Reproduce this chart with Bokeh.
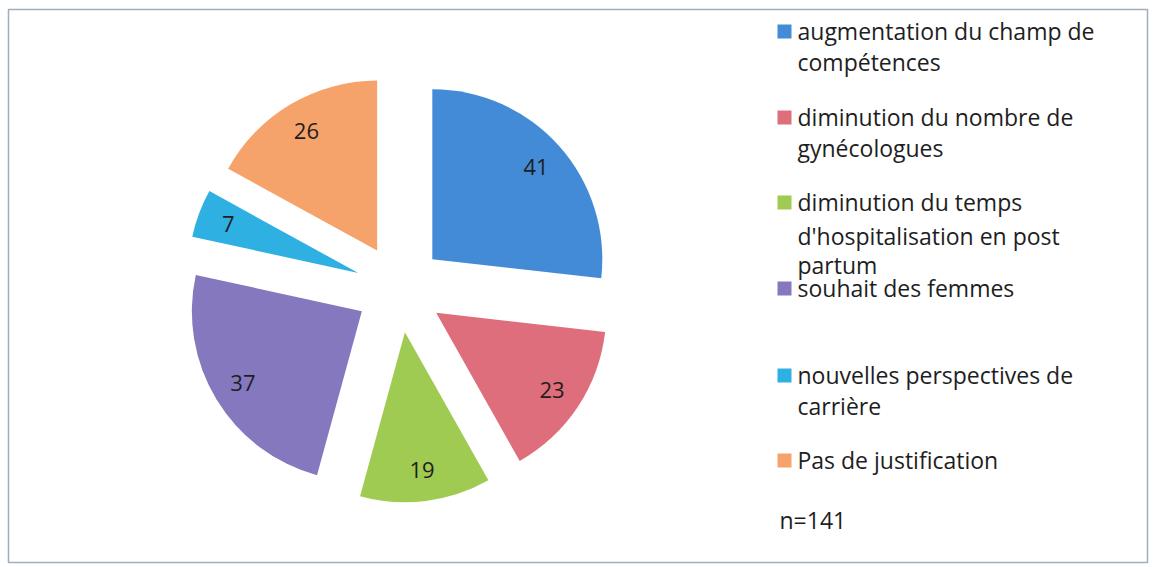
import math
from bokeh.plotting import figure
from bokeh.models import Range1d, ColumnDataSource
from bokeh.core.properties import value
from bokeh.embed import file_html
from bokeh.resources import INLINE

# ---- data ----
categories = [
    "augmentation du champ de compétences",
    "diminution du nombre de gynécologues",
    "diminution du temps d'hospitalisation en post partum",
    "souhait des femmes",
    "nouvelles perspectives de carrière",
    "Pas de justification",
]
values = [41, 23, 19, 37, 7, 26]
colors = ["#438bd6", "#de6e7c", "#9fcb52", "#8678bf", "#2fb0e3", "#f6a36b"]
legend_lines = [
    ["augmentation du champ de", "compétences"],
    ["diminution du nombre de", "gynécologues"],
    ["diminution du temps", "d'hospitalisation en post", "partum"],
    ["souhait des femmes"],
    ["nouvelles perspectives de", "carrière"],
    ["Pas de justification"],
]
note = "n=141"

# ---- layout (screen px) ----
W, H = 1152, 565
PAGE_H = 567
FONT = "Open Sans"


def Y(sy):
    return PAGE_H - sy


p = figure(width=W, height=H, output_backend="svg", toolbar_location=None,
           x_range=Range1d(0, W), y_range=Range1d(PAGE_H - H, PAGE_H),
           min_border=0)
p.axis.visible = False
p.grid.visible = False
p.outline_line_color = None
p.background_fill_color = "white"
p.border_fill_color = "white"

# border box
p.quad(left=[8], right=[1147], bottom=[Y(562)], top=[Y(9)],
       fill_color=None, line_color="#9fadbd", line_width=1.5)

# pie
cx, cy = 399, Y(288)
R = 170
explode = 44
label_r = 139
total = sum(values)
xs, ys, starts, ends, lx, ly = [], [], [], [], [], []
cum = 0
for v in values:
    a0 = cum / total * 2 * math.pi
    cum += v
    a1 = cum / total * 2 * math.pi
    mid = (a0 + a1) / 2
    dx, dy = math.sin(mid), math.cos(mid)
    ox, oy = cx + explode * dx, cy + explode * dy
    xs.append(ox); ys.append(oy)
    starts.append(math.pi / 2 - a0)
    ends.append(math.pi / 2 - a1)
    lx.append(ox + label_r * dx); ly.append(oy + label_r * dy)

src = ColumnDataSource(dict(x=xs, y=ys, s=starts, e=ends, c=colors,
                            lx=lx, ly=ly, t=[str(v) for v in values]))
p.wedge(x="x", y="y", radius=R, start_angle="s", end_angle="e",
        direction="clock", fill_color="c", line_color=None, source=src)
p.text(x="lx", y="ly", text="t", source=src, text_align="center",
       text_baseline="middle", text_font=value(FONT), text_font_size="22px",
       text_color="#1e1e1e")

# legend
first_y = [30, 116, 201, 287, 374, 459]
offsets = [[0, 31], [0, 31], [0, 34, 63], [0], [0, 31], [0]]
sq_x, txt_x = 784, 797
tx, ty, tt = [], [], []
for i, lines in enumerate(legend_lines):
    for j, ln in enumerate(lines):
        tx.append(txt_x); ty.append(Y(first_y[i] + offsets[i][j])); tt.append(ln)
p.rect(x=[sq_x] * len(colors), y=[Y(v + 1) for v in first_y], width=14, height=14,
       fill_color=colors, line_color=None)
p.text(x=tx, y=ty, text=tt, text_align="left", text_baseline="middle",
       text_font=value(FONT), text_font_size="23px", text_color="#1e1e1e")
p.text(x=[779], y=[Y(519)], text=[note], text_align="left", text_baseline="middle",
       text_font=value(FONT), text_font_size="23px", text_color="#1e1e1e")

open("out.html", "w").write(file_html(p, INLINE))
